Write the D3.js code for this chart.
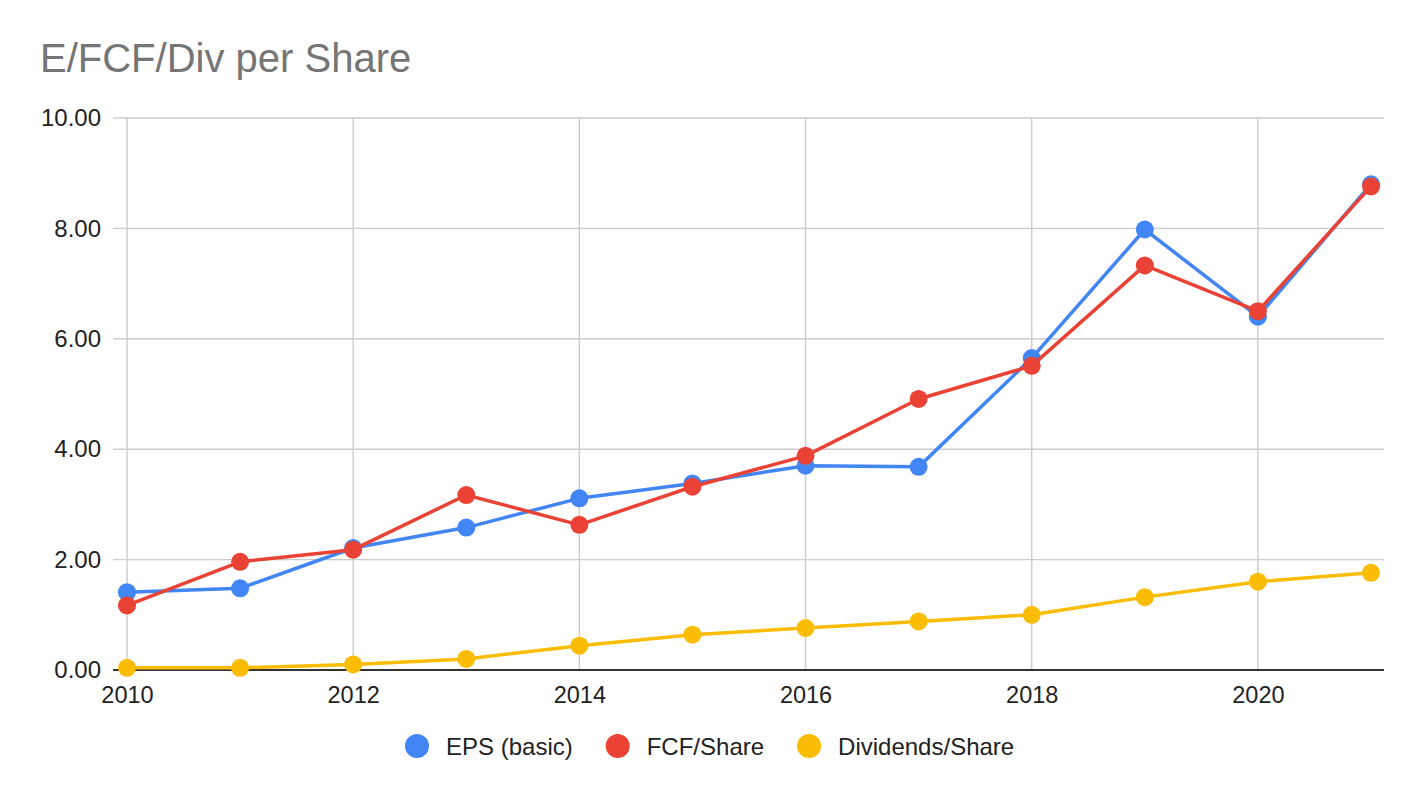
<!DOCTYPE html>
<html>
<head>
<meta charset="utf-8">
<script src="https://cdn.jsdelivr.net/npm/d3@7"></script>
<style>
  body { margin: 0; background: #fff; }
  text { font-family: Arial, "Liberation Sans", sans-serif; }
</style>
</head>
<body>
<script>
var years = [2010, 2011, 2012, 2013, 2014, 2015, 2016, 2017, 2018, 2019, 2020, 2021];
var epsBasic = [1.41, 1.48, 2.21, 2.58, 3.11, 3.38, 3.70, 3.68, 5.65, 7.98, 6.40, 8.80];
var fcfShare = [1.17, 1.96, 2.18, 3.17, 2.63, 3.32, 3.88, 4.91, 5.51, 7.33, 6.50, 8.76];
var divShare = [0.04, 0.04, 0.10, 0.20, 0.44, 0.64, 0.76, 0.88, 1.00, 1.32, 1.60, 1.76];
var yTicks = [0, 2, 4, 6, 8, 10];
var xTicks = [2010, 2012, 2014, 2016, 2018, 2020];
var seriesNames = ["EPS (basic)", "FCF/Share", "Dividends/Share"];
var seriesColors = ["#4285f4", "#ea4335", "#fbbc04"];

var width = 1424, height = 798;
var plotLeft = 113, plotRight = 1384, plotTop = 118, plotBottom = 670;

var svg = d3.select("body").append("svg")
	.attr("width", width)
	.attr("height", height);

// title
svg.append("text")
	.attr("x", 40)
	.attr("y", 72)
	.attr("font-size", "40px")
	.attr("fill", "#757575")
	.text("E/FCF/Div per Share");

var xScale = d3.scaleLinear()
	.domain([2010, 2021])
	.range([127, 1371]);

var yScale = d3.scaleLinear()
	.domain([0, 10])
	.range([plotBottom, plotTop]);

// horizontal grid
svg.append("g")
	.selectAll("line")
	.data(yTicks)
	.enter()
	.append("line")
	.attr("x1", plotLeft)
	.attr("x2", plotRight)
	.attr("y1", function (d) { return yScale(d); })
	.attr("y2", function (d) { return yScale(d); })
	.attr("stroke", "#cccccc")
	.attr("stroke-width", 1.4);

// vertical grid
svg.append("g")
	.selectAll("line")
	.data(xTicks)
	.enter()
	.append("line")
	.attr("x1", function (d) { return xScale(d); })
	.attr("x2", function (d) { return xScale(d); })
	.attr("y1", plotTop)
	.attr("y2", plotBottom)
	.attr("stroke", "#cccccc")
	.attr("stroke-width", 1.4);

// y axis labels
var yAxis = svg.append("g")
	.attr("transform", "translate(" + plotLeft + ",0)")
	.call(d3.axisLeft(yScale).tickValues(yTicks).tickFormat(d3.format(".2f")).tickSize(0).tickPadding(12));
yAxis.select(".domain").remove();
yAxis.selectAll("text")
	.attr("font-size", "24px")
	.attr("font-family", "Arial, 'Liberation Sans', sans-serif")
	.attr("fill", "#222");

// x axis labels
var xAxis = svg.append("g")
	.attr("transform", "translate(0," + plotBottom + ")")
	.call(d3.axisBottom(xScale).tickValues(xTicks).tickFormat(d3.format("d")).tickSize(0).tickPadding(16));
xAxis.select(".domain").remove();
xAxis.selectAll("text")
	.attr("font-size", "23.5px")
	.attr("font-family", "Arial, 'Liberation Sans', sans-serif")
	.attr("fill", "#222");

// baseline
svg.append("line")
	.attr("x1", plotLeft)
	.attr("x2", plotRight)
	.attr("y1", plotBottom)
	.attr("y2", plotBottom)
	.attr("stroke", "#333333")
	.attr("stroke-width", 2);

var allSeries = [epsBasic, fcfShare, divShare];

var line = d3.line()
	.x(function (d, i) { return xScale(years[i]); })
	.y(function (d) { return yScale(d); });

allSeries.forEach(function (values, s) {
	svg.append("path")
		.datum(values)
		.attr("d", line)
		.attr("fill", "none")
		.attr("stroke", seriesColors[s])
		.attr("stroke-width", 3.5)
		.attr("stroke-linejoin", "round");
	svg.append("g")
		.selectAll("circle")
		.data(values)
		.enter()
		.append("circle")
		.attr("cx", function (d, i) { return xScale(years[i]); })
		.attr("cy", function (d) { return yScale(d); })
		.attr("r", 9)
		.attr("fill", seriesColors[s]);
});

// legend
var legend = svg.append("g");
var lx = 0;
seriesNames.forEach(function (name, s) {
	var item = legend.append("g").attr("transform", "translate(" + lx + ",0)");
	item.append("circle")
		.attr("cx", 12)
		.attr("cy", 0)
		.attr("r", 12)
		.attr("fill", seriesColors[s]);
	var t = item.append("text")
		.attr("x", 41)
		.attr("y", 8.5)
		.attr("font-size", "24px")
		.attr("fill", "#222")
		.text(name);
	lx += 41 + t.node().getComputedTextLength() + 33;
});
legend.attr("transform", "translate(405,746)");
</script>
</body>
</html>
